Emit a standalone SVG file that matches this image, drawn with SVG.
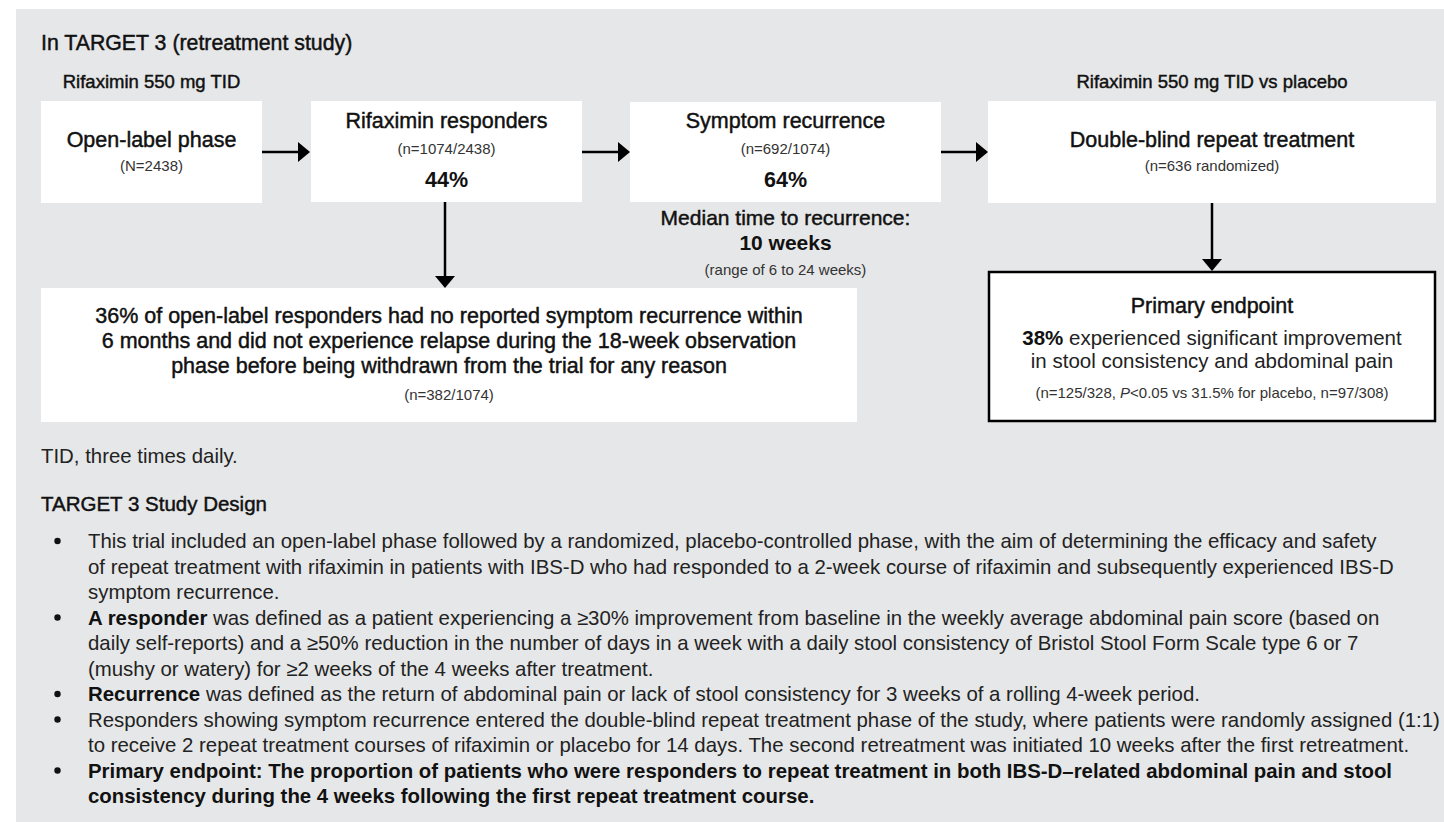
<svg xmlns="http://www.w3.org/2000/svg" width="1444" height="822" viewBox="0 0 1444 822">
<style>
text{font-family:"Liberation Sans",Arial,sans-serif;}
.med{fill:#111;stroke:#111;stroke-width:0.45;}
.bold{font-weight:bold;fill:#111;}
.sm{font-size:15px;fill:#333;}
.body{font-size:20.4px;fill:#222;}
.bb{font-weight:bold;fill:#111;}
.box{fill:#fff;}
.c{text-anchor:middle;}
.conn{stroke:#000;stroke-width:2.5;fill:none;marker-end:url(#ah);}
</style>
<defs>
<marker id="ah" viewBox="0 0 12 20" refX="2" refY="10" markerWidth="12" markerHeight="20" markerUnits="userSpaceOnUse" orient="auto">
<path d="M0,0 L12,10 L0,20 z" fill="#000"/>
</marker>
</defs>
<rect x="16" y="9" width="1428" height="813" fill="#e6e7e8"/>
<text class="med" x="41" y="50" font-size="21.3">In TARGET 3 (retreatment study)</text>
<text class="med c" x="151.5" y="88" font-size="18.5">Rifaximin 550 mg TID</text>
<text class="med c" x="1212" y="88" font-size="18.5">Rifaximin 550 mg TID vs placebo</text>

<g id="open-label">
<rect class="box" x="41" y="101" width="221" height="102"/>
<text class="med c" x="151.5" y="147" font-size="21.5">Open-label phase</text>
<text class="sm c" x="151.5" y="171">(N=2438)</text>
</g>
<g id="responders">
<rect class="box" x="311" y="101" width="271" height="101"/>
<text class="med c" x="446.5" y="128" font-size="21.5">Rifaximin responders</text>
<text class="sm c" x="446.5" y="154">(n=1074/2438)</text>
<text class="bold c" x="446.5" y="187" font-size="21.5">44%</text>
</g>
<g id="recurrence">
<rect class="box" x="630" y="102" width="311" height="100"/>
<text class="med c" x="785.5" y="128" font-size="21.5">Symptom recurrence</text>
<text class="sm c" x="785.5" y="154">(n=692/1074)</text>
<text class="bold c" x="785.5" y="187" font-size="21.5">64%</text>
</g>
<g id="median">
<text class="med c" x="785.5" y="225" font-size="21">Median time to recurrence:</text>
<text class="bold c" x="785.5" y="250" font-size="21">10 weeks</text>
<text class="sm c" x="785.5" y="275">(range of 6 to 24 weeks)</text>
</g>
<g id="double-blind">
<rect class="box" x="988" y="101" width="448" height="102"/>
<text class="med c" x="1212" y="147" font-size="21.5">Double-blind repeat treatment</text>
<text class="sm c" x="1212" y="171">(n=636 randomized)</text>
</g>
<g id="no-recurrence">
<rect class="box" x="41" y="288" width="816" height="134"/>
<text class="med c" x="449" y="323" font-size="21.5">36% of open-label responders had no reported symptom recurrence within</text>
<text class="med c" x="449" y="348" font-size="21.5">6 months and did not experience relapse during the 18-week observation</text>
<text class="med c" x="449" y="373" font-size="21.5">phase before being withdrawn from the trial for any reason</text>
<text class="sm c" x="449" y="400">(n=382/1074)</text>
</g>
<g id="primary-endpoint">
<rect x="989" y="272" width="446" height="149" fill="#fff" stroke="#000" stroke-width="2.5"/>
<text class="med c" x="1212" y="313" font-size="21.5">Primary endpoint</text>
<text class="c" x="1212" y="345" font-size="20.5" fill="#222"><tspan font-weight="bold" fill="#111">38%</tspan> experienced significant improvement</text>
<text class="c" x="1212" y="368" font-size="20.5" fill="#222">in stool consistency and abdominal pain</text>
<text class="sm c" x="1212" y="398">(n=125/328, <tspan font-style="italic">P</tspan>&lt;0.05 vs 31.5% for placebo, n=97/308)</text>
</g>
<g id="connectors">
<line class="conn" x1="262" y1="152" x2="300" y2="152"/>
<line class="conn" x1="582" y1="152" x2="620" y2="152"/>
<line class="conn" x1="941" y1="152" x2="978" y2="152"/>
<line class="conn" x1="445" y1="202" x2="445" y2="278"/>
<line class="conn" x1="1212" y1="203" x2="1212" y2="261"/>
</g>
<g id="notes">
<text class="body" x="41" y="463">TID, three times daily.</text>
<text class="med" x="41" y="511" font-size="20.5">TARGET 3 Study Design</text>
<g fill="#111">
<circle cx="57.5" cy="541" r="3.2"/>
<circle cx="57.5" cy="617.5" r="3.2"/>
<circle cx="57.5" cy="694" r="3.2"/>
<circle cx="57.5" cy="719.5" r="3.2"/>
<circle cx="57.5" cy="770.5" r="3.2"/>
</g>
<text class="body" x="88" y="548">This trial included an open-label phase followed by a randomized, placebo-controlled phase, with the aim of determining the efficacy and safety</text>
<text class="body" x="88" y="573.5">of repeat treatment with rifaximin in patients with IBS-D who had responded to a 2-week course of rifaximin and subsequently experienced IBS-D</text>
<text class="body" x="88" y="599">symptom recurrence.</text>
<text class="body" x="88" y="624.5"><tspan class="bb">A responder</tspan> was defined as a patient experiencing a ≥30% improvement from baseline in the weekly average abdominal pain score (based on</text>
<text class="body" x="88" y="650">daily self-reports) and a ≥50% reduction in the number of days in a week with a daily stool consistency of Bristol Stool Form Scale type 6 or 7</text>
<text class="body" x="88" y="675.5">(mushy or watery) for ≥2 weeks of the 4 weeks after treatment.</text>
<text class="body" x="88" y="701"><tspan class="bb">Recurrence</tspan> was defined as the return of abdominal pain or lack of stool consistency for 3 weeks of a rolling 4-week period.</text>
<text class="body" x="88" y="726.5">Responders showing symptom recurrence entered the double-blind repeat treatment phase of the study, where patients were randomly assigned (1:1)</text>
<text class="body" x="88" y="752">to receive 2 repeat treatment courses of rifaximin or placebo for 14 days. The second retreatment was initiated 10 weeks after the first retreatment.</text>
<text class="body bb" x="88" y="777.5">Primary endpoint: The proportion of patients who were responders to repeat treatment in both IBS-D–related abdominal pain and stool</text>
<text class="body bb" x="88" y="803">consistency during the 4 weeks following the first repeat treatment course.</text>
</g>
</svg>
